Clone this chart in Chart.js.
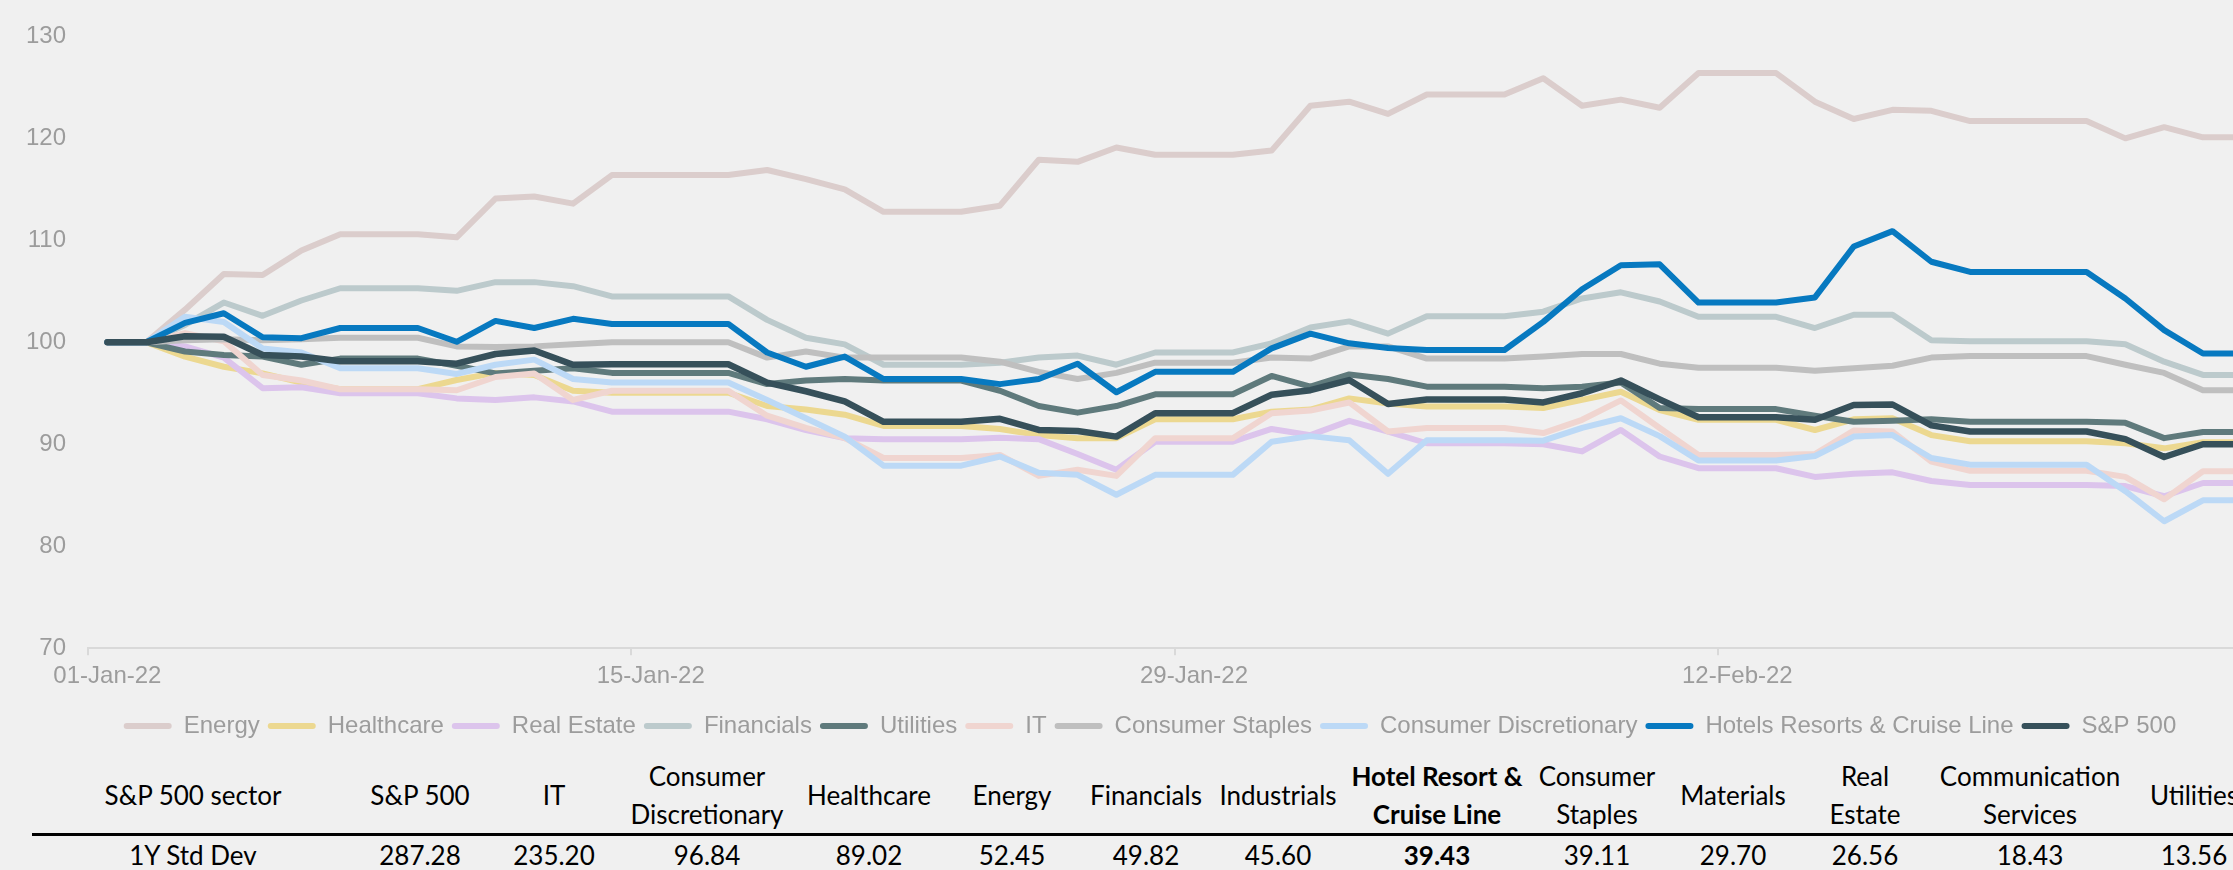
<!DOCTYPE html>
<html>
<head>
<meta charset="utf-8">
<script src="https://cdn.jsdelivr.net/npm/chart.js@4.4.1/dist/chart.umd.min.js"></script>
<style>
  html, body {
    margin: 0;
    padding: 0;
    width: 2233px;
    height: 870px;
    overflow: hidden;
    background: #f0f0f0;
  }
  #wrap {
    position: absolute;
    left: 0;
    top: 0;
    width: 2300px;
    height: 756px;
  }
  #stats {
    position: absolute;
    left: 32px;
    top: 757px;
    border-collapse: collapse;
    table-layout: fixed;
    font-family: Lato, "Noto Sans", sans-serif;
    font-size: 26px;
    color: #000;
  }
  #stats th, #stats td {
    padding: 0;
    text-align: center;
    font-weight: normal;
    line-height: 38px;
    white-space: nowrap;
  }
  #stats th {
    height: 76px;
    border-bottom: 3px solid #000;
    vertical-align: middle;
  }
  #stats td { height: 38px; }
  #stats .hl { font-weight: bold; }
</style>
</head>
<body>
<div id="wrap"><canvas id="sectorChart"></canvas></div>
<table id="stats"></table>

<script>
/* ── Data ── */
const seriesNames = [
  "Energy", "Healthcare", "Real Estate", "Financials", "Utilities", "IT",
  "Consumer Staples", "Consumer Discretionary", "Hotels Resorts & Cruise Line", "S&P 500",
];

const energy = [100, 100, 103.2, 106.7, 106.6, 109.0, 110.6, 110.6, 110.6, 110.3, 114.1, 114.3, 113.6, 116.4, 116.4, 116.4, 116.4, 116.9, 116.0, 115.0, 112.8, 112.8, 112.8, 113.4, 117.9, 117.7, 119.1, 118.4, 118.4, 118.4, 118.8, 123.2, 123.6, 122.4, 124.3, 124.3, 124.3, 125.9, 123.2, 123.8, 123.0, 126.4, 126.4, 126.4, 123.6, 121.9, 122.8, 122.7, 121.7, 121.7, 121.7, 121.7, 120.0, 121.1, 120.1, 120.1];
const healthcare = [100, 100, 98.6, 97.6, 96.95, 96.05, 95.4, 95.4, 95.4, 96.3, 97.0, 96.8, 95.25, 95.05, 95.05, 95.05, 95.05, 93.75, 93.4, 92.9, 91.8, 91.8, 91.8, 91.5, 90.9, 90.6, 90.6, 92.45, 92.45, 92.45, 93.2, 93.4, 94.5, 94.0, 93.7, 93.7, 93.7, 93.55, 94.35, 95.15, 93.35, 92.4, 92.4, 92.4, 91.4, 92.45, 92.55, 90.9, 90.3, 90.3, 90.3, 90.3, 90.1, 89.6, 90.2, 90.2];
const realEstate = [100, 100, 99.6, 98.5, 95.5, 95.6, 95.0, 95.0, 95.0, 94.5, 94.35, 94.6, 94.2, 93.2, 93.2, 93.2, 93.2, 92.45, 91.4, 90.6, 90.5, 90.5, 90.5, 90.65, 90.5, 89.05, 87.5, 90.25, 90.25, 90.25, 91.5, 90.9, 92.3, 91.25, 90.1, 90.1, 90.1, 90.0, 89.3, 91.4, 88.8, 87.65, 87.65, 87.65, 86.8, 87.1, 87.25, 86.4, 86.0, 86.0, 86.0, 86.0, 85.9, 84.9, 86.2, 86.2];
const financials = [100, 100, 101.7, 103.9, 102.6, 104.1, 105.3, 105.3, 105.3, 105.05, 105.9, 105.9, 105.5, 104.5, 104.5, 104.5, 104.5, 102.2, 100.45, 99.8, 97.8, 97.8, 97.8, 98.0, 98.5, 98.7, 97.8, 99.0, 99.0, 99.0, 99.9, 101.45, 102.05, 100.85, 102.55, 102.55, 102.55, 103.0, 104.3, 104.9, 104.0, 102.5, 102.5, 102.5, 101.4, 102.7, 102.7, 100.2, 100.1, 100.1, 100.1, 100.1, 99.8, 98.1, 96.8, 96.8];
const utilities = [100, 100, 99.1, 98.75, 98.6, 97.8, 98.4, 98.4, 98.4, 97.7, 96.95, 97.2, 97.45, 97.0, 97.0, 97.0, 97.0, 95.9, 96.25, 96.4, 96.25, 96.25, 96.25, 95.25, 93.75, 93.1, 93.75, 94.9, 94.9, 94.9, 96.7, 95.65, 96.85, 96.4, 95.65, 95.65, 95.65, 95.5, 95.65, 96.05, 93.55, 93.45, 93.45, 93.45, 92.8, 92.2, 92.3, 92.45, 92.2, 92.2, 92.2, 92.2, 92.1, 90.6, 91.2, 91.2];
const infoTech = [100, 100, 100.9, 100.1, 96.8, 96.25, 95.4, 95.4, 95.4, 95.3, 96.6, 96.95, 94.35, 95.25, 95.25, 95.25, 95.25, 92.8, 91.6, 90.6, 88.65, 88.65, 88.65, 88.95, 86.9, 87.5, 86.9, 90.6, 90.6, 90.6, 93.05, 93.3, 94.1, 91.25, 91.6, 91.6, 91.6, 91.1, 92.4, 94.3, 91.6, 88.95, 88.95, 88.95, 89.05, 91.35, 91.25, 88.3, 87.4, 87.4, 87.4, 87.4, 86.8, 84.6, 87.35, 87.35];
const staples = [100, 100, 100.2, 100.3, 100.2, 100.3, 100.45, 100.45, 100.45, 99.6, 99.55, 99.6, 99.8, 100.0, 100.0, 100.0, 100.0, 98.5, 99.1, 98.5, 98.5, 98.5, 98.5, 98.1, 97.1, 96.4, 97.0, 98.0, 98.0, 98.0, 98.5, 98.4, 99.6, 99.6, 98.4, 98.4, 98.4, 98.6, 98.85, 98.85, 97.9, 97.5, 97.5, 97.5, 97.2, 97.45, 97.7, 98.5, 98.65, 98.65, 98.65, 98.65, 97.8, 97.0, 95.3, 95.3];
const discretionary = [100, 100, 102.5, 102.0, 99.4, 99.0, 97.45, 97.45, 97.45, 96.9, 97.8, 98.3, 96.4, 96.05, 96.05, 96.05, 96.05, 94.35, 92.55, 90.75, 87.9, 87.9, 87.9, 88.8, 87.2, 87.0, 85.05, 87.0, 87.0, 87.0, 90.25, 90.8, 90.4, 87.1, 90.4, 90.4, 90.4, 90.35, 91.6, 92.55, 90.8, 88.4, 88.4, 88.4, 88.85, 90.75, 90.9, 88.65, 88.0, 88.0, 88.0, 88.0, 85.4, 82.45, 84.5, 84.5];
const hotels = [100, 100, 101.9, 102.85, 100.5, 100.4, 101.4, 101.4, 101.4, 100.05, 102.1, 101.4, 102.3, 101.8, 101.8, 101.8, 101.8, 99.0, 97.6, 98.6, 96.4, 96.4, 96.4, 95.9, 96.4, 97.9, 95.1, 97.1, 97.1, 97.1, 99.4, 100.85, 99.9, 99.45, 99.25, 99.25, 99.25, 102.0, 105.2, 107.55, 107.65, 103.9, 103.9, 103.9, 104.4, 109.4, 110.9, 107.9, 106.9, 106.9, 106.9, 106.9, 104.3, 101.2, 98.9, 98.9];
const sp500 = [100, 100, 100.6, 100.55, 98.75, 98.6, 98.15, 98.15, 98.15, 97.9, 98.85, 99.2, 97.8, 97.85, 97.85, 97.85, 97.85, 96.05, 95.2, 94.2, 92.2, 92.2, 92.2, 92.5, 91.4, 91.3, 90.75, 93.05, 93.05, 93.05, 94.85, 95.3, 96.3, 93.95, 94.4, 94.4, 94.4, 94.1, 95.0, 96.25, 94.4, 92.65, 92.65, 92.65, 92.4, 93.85, 93.9, 91.85, 91.25, 91.25, 91.25, 91.25, 90.5, 88.75, 90.0, 90.0];

const yTicks = [70, 80, 90, 100, 110, 120, 130];
const xTickLabels = ["01-Jan-22", "15-Jan-22", "29-Jan-22", "12-Feb-22"];

// daily categories, 01-Jan-22 onward (one extra day past the last point)
const MONTHS = ["Jan", "Feb", "Mar"];
const dayLabels = [];
for (let i = 0; i < 57; i++) {
  const d = new Date(2022, 0, 1 + i);
  dayLabels.push(String(d.getDate()).padStart(2, "0") + "-" + MONTHS[d.getMonth()] + "-22");
}

const sectorHeaders = [
  "S&P 500 sector", "S&P 500", "IT", "Consumer\nDiscretionary", "Healthcare", "Energy",
  "Financials", "Industrials", "Hotel Resort &\nCruise Line", "Consumer\nStaples",
  "Materials", "Real\nEstate", "Communication\nServices", "Utilities",
];
const stdDev = ["1Y Std Dev", "287.28", "235.20", "96.84", "89.02", "52.45", "49.82", "45.60",
  "39.43", "39.11", "29.70", "26.56", "18.43", "13.56"];

/* ── Styles ── */
const lineColors = ["#dbcdcc", "#ecd890", "#dcc4ec", "#bccacc", "#5f7a7c", "#f0d5d0",
  "#bfbfbf", "#bcd9f6", "#0779c0", "#36505a"];
const colWidths = [322, 132, 136, 170, 154, 132, 136, 128, 190, 130, 142, 122, 208, 120];
const HIGHLIGHT_COL = 8;
const AXIS_GRAY = "#9c9c9c";
const axisFont = { family: "'Liberation Sans', Arial, sans-serif", size: 24 };

/* ── Chart ── */
const seriesValues = [energy, healthcare, realEstate, financials, utilities, infoTech,
  staples, discretionary, hotels, sp500];

// later series are drawn on top, so feed them in reverse and flip the legend back
const datasets = seriesNames.map((name, i) => ({
  label: name,
  data: seriesValues[i],
  borderColor: lineColors[i],
  backgroundColor: lineColors[i],
  borderWidth: i === seriesNames.length - 1 ? 6.5 : 6,
  borderCapStyle: "round",
  borderJoinStyle: "round",
  pointRadius: 0,
  tension: 0,
})).reverse();

const isLabelledDay = (i) => xTickLabels.includes(dayLabels[i]);

new Chart(document.getElementById("sectorChart").getContext("2d"), {
  type: "line",
  data: { labels: dayLabels, datasets },
  options: {
    responsive: true,
    maintainAspectRatio: false,
    animation: false,
    layout: { padding: { top: 32, bottom: 8, left: 0, right: 0 } },
    scales: {
      x: {
        offset: true,
        grid: {
          offset: true,
          drawOnChartArea: false,
          drawTicks: true,
          tickLength: 7,
          lineWidth: 2,
          color: (ctx) => (isLabelledDay(ctx.index) ? "#d9d9d9" : "rgba(0,0,0,0)"),
        },
        border: { display: true, color: "#d9d9d9", width: 2 },
        ticks: {
          autoSkip: false,
          maxRotation: 0,
          padding: 7,
          color: AXIS_GRAY,
          font: axisFont,
          callback: function (value, index) {
            return isLabelledDay(index) ? this.getLabelForValue(value) : "";
          },
        },
        afterFit: (scale) => { scale.height += 8; },
      },
      y: {
        min: yTicks[0],
        max: yTicks[yTicks.length - 1],
        grid: { display: false, drawTicks: false },
        border: { display: false },
        ticks: { stepSize: 10, padding: 22, color: AXIS_GRAY, font: axisFont },
        afterFit: (scale) => { scale.width = 88; },
      },
    },
    plugins: {
      legend: {
        position: "bottom",
        reverse: true,
        labels: {
          boxWidth: 48,
          boxHeight: 6,
          useBorderRadius: true,
          borderRadius: 3,
          padding: 8,
          color: AXIS_GRAY,
          font: axisFont,
          // flat rounded bar per series, no outline
          generateLabels: (chart) =>
            Chart.defaults.plugins.legend.labels.generateLabels(chart).map((item) => ({
              ...item,
              lineWidth: 0,
            })),
        },
      },
      tooltip: { enabled: false },
    },
  },
});

/* ── Std dev table ── */
const table = document.getElementById("stats");
const colgroup = document.createElement("colgroup");
colWidths.forEach((w) => {
  const c = document.createElement("col");
  c.style.width = w + "px";
  colgroup.appendChild(c);
});
table.appendChild(colgroup);
table.style.width = colWidths.reduce((a, b) => a + b, 0) + "px";

const headRow = table.insertRow();
sectorHeaders.forEach((h, i) => {
  const th = document.createElement("th");
  th.innerHTML = h.replace("&", "&amp;").replace("\n", "<br>");
  if (i === HIGHLIGHT_COL) th.className = "hl";
  headRow.appendChild(th);
});
const valueRow = table.insertRow();
stdDev.forEach((v, i) => {
  const td = valueRow.insertCell();
  td.textContent = v;
  if (i === HIGHLIGHT_COL) td.className = "hl";
});
</script>
</body>
</html>
